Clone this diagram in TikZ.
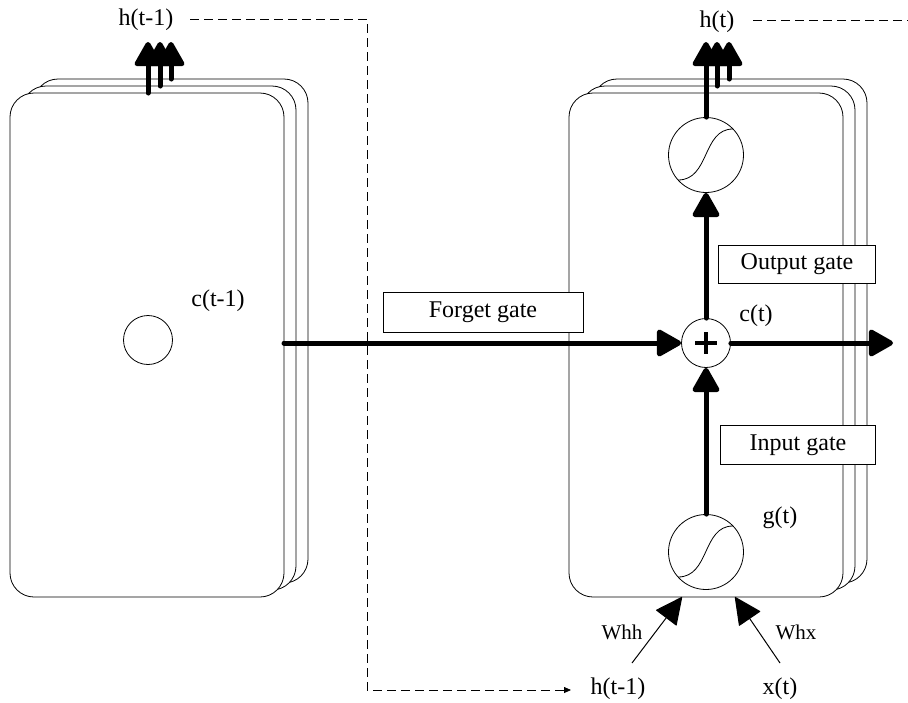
\documentclass[tikz,border=0pt]{standalone}
\usepackage{fontspec}
\setmainfont{Liberation Serif}
\usetikzlibrary{arrows.meta}
\begin{document}
\begin{tikzpicture}[x=1pt,y=-1pt,
  card/.style={draw=black, fill=white, line width=0.8pt, rounded corners=24pt},
  gatebox/.style={draw=black, fill=white, line width=0.8pt, inner sep=0, font=\fontsize{24}{28}\selectfont},
  lbl/.style={inner sep=0, font=\fontsize{24}{28}\selectfont},
  smalllbl/.style={inner sep=0, font=\fontsize{21}{25}\selectfont},
  ring/.style={circle, draw=black, fill=white, line width=0.8pt, inner sep=0},
  bigarrow/.style={line width=5pt, line cap=round, -{Triangle[length=27pt,width=29pt,round]}},
  weightarrow/.style={line width=1pt, -{Triangle[length=27pt,width=26pt,round]}},
  dashline/.style={line width=0.8pt, dash pattern=on 9pt off 5pt, -{Triangle[length=7pt,width=6pt]}}
]
\useasboundingbox (0,0) rectangle (908,702);

% left stack
\draw[card] (34,79) rectangle (308,583);
\draw[card] (22,86) rectangle (296,590);
\draw[card] (10,93) rectangle (284,597);
% right stack
\draw[card] (593,79) rectangle (867,583);
\draw[card] (581,86) rectangle (855,590);
\draw[card] (569,93) rectangle (843,597);

% named coordinates
\coordinate (la1s) at (148,93);  \coordinate (la1e) at (148,42);
\coordinate (la2s) at (160,86);  \coordinate (la2e) at (160,42);
\coordinate (la3s) at (171,79);  \coordinate (la3e) at (171,42);
\coordinate (ra2s) at (717,86);  \coordinate (ra2e) at (717,42);
\coordinate (ra3s) at (729,79);  \coordinate (ra3e) at (729,42);
\coordinate (ra1e) at (706,42);
\coordinate (fstart) at (284,343);
\coordinate (cout) at (893,343);
\coordinate (whhs) at (632,663); \coordinate (whhe) at (682,597);
\coordinate (whxs) at (780,663); \coordinate (whxe) at (735,597);
\coordinate (d1) at (190,19); \coordinate (d2) at (367,19);
\coordinate (d3) at (367,690); \coordinate (d4) at (571,690);
\coordinate (e1) at (753,20); \coordinate (e2) at (908,20);

% dashed recurrent connections
\draw[dashline] (d1) -- (d2) -- (d3) -- (d4);
\draw[line width=0.8pt, dash pattern=on 9pt off 5pt] (e1) -- (e2);

% circles
\node[ring, minimum size=49pt] (cprev) at (148,340) {};
\node[ring, minimum size=75pt] (sigtop) at (706,155) {};
\node[ring, minimum size=75pt] (sigbot) at (706,552) {};
\node[ring, minimum size=49pt] (plus) at (706,343) {};

% sigmoid curves
\draw[line width=0.8pt, shift={(sigtop.center)}] (-28,25) .. controls (4,25) and (-4,-26) .. (27,-26);
\draw[line width=0.8pt, shift={(sigbot.center)}] (-28,25) .. controls (4,25) and (-4,-26) .. (27,-26);
% plus sign
\draw[line width=4pt, shift={(plus.center)}] (-11,0) -- (11,0) (0,-11) -- (0,11);

% thick arrows
\draw[bigarrow] (la3s) -- (la3e);
\draw[bigarrow] (la2s) -- (la2e);
\draw[bigarrow] (la1s) -- (la1e);
\draw[bigarrow] (ra3s) -- (ra3e);
\draw[bigarrow] (ra2s) -- (ra2e);
\draw[bigarrow] (sigtop.north) -- (ra1e);
\draw[bigarrow] (fstart) -- (plus.west);
\draw[bigarrow] (plus.east) -- (cout);
\draw[bigarrow] (sigbot.north) -- (plus.south);
\draw[bigarrow] (plus.north) -- (sigtop.south);

% weight arrows
\draw[weightarrow] (whhs) -- (whhe);
\draw[weightarrow] (whxs) -- (whxe);

% gate boxes
\node[gatebox, minimum width=200pt, minimum height=40pt] (forget) at (483,312) {Forget gate};
\node[gatebox, minimum width=157pt, minimum height=38pt] (output) at (797,264) {Output gate};
\node[gatebox, minimum width=155pt, minimum height=39pt] (input) at (798,445) {Input gate};

% labels
\node[lbl] (hprev) at (146,20) {h(t-1)};
\node[lbl] (ht) at (717,22) {h(t)};
\node[lbl] (cprevlbl) at (218,301) {c(t-1)};
\node[lbl] (ctlbl) at (756,316) {c(t)};
\node[lbl] (gtlbl) at (780,518) {g(t)};
\node[smalllbl] (whhlbl) at (622,632) {Whh};
\node[smalllbl] (whxlbl) at (796,632) {Whx};
\node[lbl] (hbot) at (618,689) {h(t-1)};
\node[lbl] (xt) at (780,689) {x(t)};
\end{tikzpicture}
\end{document}
